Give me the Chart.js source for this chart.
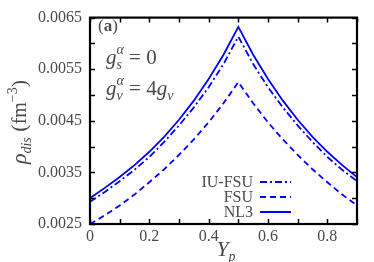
<!DOCTYPE html>
<html>
<head>
<meta charset="utf-8">
<script src="https://cdn.jsdelivr.net/npm/chart.js@4.4.1/dist/chart.umd.min.js"></script>
<style>
  html, body { margin: 0; padding: 0; background: #fff; }
  canvas { display: block; }
</style>
</head>
<body>
<canvas id="chart" width="374" height="262"></canvas>
<script>
// values
const yp    = [0, 0.05, 0.1, 0.15, 0.2, 0.25, 0.3, 0.35, 0.4, 0.45, 0.5,
               0.55, 0.6, 0.65, 0.7, 0.75, 0.8, 0.85, 0.9];
const nl3   = [0.00300, 0.00320, 0.00341, 0.00364, 0.00390, 0.00419, 0.00452, 0.00489, 0.00531, 0.00578, 0.00632,
               0.00578, 0.00531, 0.00489, 0.00452, 0.00419, 0.00390, 0.00364, 0.00341];
const fsu   = [0.00250, 0.00267, 0.00286, 0.00307, 0.00331, 0.00356, 0.00384, 0.00414, 0.00447, 0.00484, 0.00525,
               0.00484, 0.00447, 0.00414, 0.00384, 0.00356, 0.00331, 0.00307, 0.00286];
const iufsu = [0.00293, 0.00312, 0.00333, 0.00355, 0.00380, 0.00409, 0.00441, 0.00476, 0.00515, 0.00560, 0.00613,
               0.00560, 0.00515, 0.00476, 0.00441, 0.00409, 0.00380, 0.00355, 0.00333];

const xTicks = [0, 0.2, 0.4, 0.6, 0.8];
const yTicks = [0.0025, 0.0035, 0.0045, 0.0055, 0.0065];
const xMinor = [0, 0.1, 0.2, 0.3, 0.4, 0.5, 0.6, 0.7, 0.8, 0.9];
const yMinor = [0.0025, 0.003, 0.0035, 0.004, 0.0045, 0.005, 0.0055, 0.006, 0.0065];

const seriesNames = ['IU-FSU', 'FSU', 'NL3'];

const SERIF = '"Liberation Serif", "DejaVu Serif", serif';
const BLUE = '#0000ff';
const TEXT = '#4a4a4a';

function pts(arr) {
  return yp.map((x, i) => ({ x: x, y: arr[i] }));
}

// draws a run of text pieces [text, font, dy, stack]; a piece with stack=true
// is drawn at the same x as the previous one (super/subscript pairs)
function drawRich(ctx, parts, x, y, align) {
  const widths = parts.map(p => { ctx.font = p[1]; return ctx.measureText(p[0]).width; });
  let total = 0, prev = 0;
  parts.forEach((p, i) => {
    if (p[3]) { total += Math.max(0, widths[i] - prev); prev = Math.max(prev, widths[i]); }
    else { total += widths[i]; prev = widths[i]; }
  });
  let cx = align === 'center' ? x - total / 2 : x;
  let start = cx;
  ctx.textAlign = 'left';
  ctx.textBaseline = 'alphabetic';
  prev = 0;
  parts.forEach((p, i) => {
    ctx.font = p[1];
    if (p[3]) {
      ctx.fillText(p[0], start, y + (p[2] || 0));
      cx = Math.max(cx, start + widths[i]);
    } else {
      start = cx;
      ctx.fillText(p[0], cx, y + (p[2] || 0));
      cx += widths[i];
    }
  });
}

const framePlugin = {
  id: 'frame',
  afterDatasetsDraw(chart) {
    const ctx = chart.ctx;
    const a = chart.chartArea;
    const xs = chart.scales.x, ys = chart.scales.y;
    ctx.save();

    // ticks pointing inward on all four sides
    ctx.strokeStyle = '#000';
    ctx.lineWidth = 1.5;
    ctx.beginPath();
    xMinor.forEach(v => {
      const px = Math.round(xs.getPixelForValue(v)) + 0.5;
      ctx.moveTo(px, a.bottom); ctx.lineTo(px, a.bottom - 5);
      ctx.moveTo(px, a.top); ctx.lineTo(px, a.top + 5);
    });
    yMinor.forEach(v => {
      const py = Math.round(ys.getPixelForValue(v)) + 0.5;
      ctx.moveTo(a.left, py); ctx.lineTo(a.left + 5, py);
      ctx.moveTo(a.right, py); ctx.lineTo(a.right - 5, py);
    });
    ctx.stroke();

    // frame
    ctx.lineWidth = 2.2;
    ctx.strokeRect(a.left, a.top, a.right - a.left, a.bottom - a.top);

    // panel texts
    ctx.fillStyle = TEXT;
    drawRich(ctx, [['(', '17px ' + SERIF], ['a', 'bold 17px ' + SERIF], [')', '17px ' + SERIF]], 98, 31);
    drawRich(ctx, [
      ['g', 'italic 21px ' + SERIF],
      ['s', 'italic 14px ' + SERIF, 5],
      ['α', 'italic 14px ' + SERIF, -10, true],
      [' = 0', '21px ' + SERIF]
    ], 106, 64);
    drawRich(ctx, [
      ['g', 'italic 21px ' + SERIF],
      ['v', 'italic 14px ' + SERIF, 5],
      ['α', 'italic 14px ' + SERIF, -10, true],
      [' = 4', '21px ' + SERIF],
      ['g', 'italic 21px ' + SERIF],
      ['v', 'italic 14px ' + SERIF, 5]
    ], 106, 95);

    // legend: label on the left, line sample on the right
    const rows = [182, 197, 212];
    const dashes = [[7, 3, 2, 3], [6, 4], []];
    ctx.font = '16px ' + SERIF;
    seriesNames.forEach((name, i) => {
      ctx.fillStyle = TEXT;
      ctx.textAlign = 'right';
      ctx.textBaseline = 'middle';
      ctx.fillText(name, 253, rows[i] + 1);
      ctx.strokeStyle = BLUE;
      ctx.lineWidth = 2;
      ctx.setLineDash(dashes[i]);
      ctx.beginPath();
      ctx.moveTo(260, rows[i]);
      ctx.lineTo(291, rows[i]);
      ctx.stroke();
    });
    ctx.setLineDash([]);

    // axis titles
    ctx.fillStyle = TEXT;
    drawRich(ctx, [['Y', 'italic 22px ' + SERIF], ['p', 'italic 14px ' + SERIF, 5]], 226, 256, 'center');

    ctx.translate(26, 122);
    ctx.rotate(-Math.PI / 2);
    drawRich(ctx, [
      ['ρ', 'italic 22px ' + SERIF],
      ['dis', 'italic 14px ' + SERIF, 5],
      [' (', '22px ' + SERIF],
      ['fm', '20px ' + SERIF],
      ['−3', '14px ' + SERIF, -9],
      [')', '22px ' + SERIF]
    ], 0, 0, 'center');

    ctx.restore();
  }
};

const chart = new Chart(document.getElementById('chart'), {
  type: 'line',
  data: {
    datasets: [
      { label: 'NL3', data: pts(nl3), borderColor: BLUE, borderWidth: 1.8, borderDash: [] },
      { label: 'FSU', data: pts(fsu), borderColor: BLUE, borderWidth: 1.8, borderDash: [6, 4] },
      { label: 'IU-FSU', data: pts(iufsu), borderColor: BLUE, borderWidth: 1.8, borderDash: [7, 3, 2, 3] }
    ]
  },
  options: {
    responsive: false,
    animation: false,
    devicePixelRatio: 1,
    layout: { padding: { top: 13, right: 17, left: 0, bottom: 0 } },
    elements: { point: { radius: 0 }, line: { tension: 0, fill: false } },
    plugins: { legend: { display: false }, tooltip: { enabled: false } },
    scales: {
      x: {
        type: 'linear',
        min: 0,
        max: 0.9,
        grid: { display: false, drawTicks: false },
        border: { display: false },
        afterBuildTicks: s => { s.ticks = xTicks.map(v => ({ value: v })); },
        afterFit: s => { s.height = 38; },
        ticks: {
          color: TEXT,
          padding: 3,
          font: { family: SERIF, size: 16 },
          callback: v => String(v)
        }
      },
      y: {
        type: 'linear',
        min: 0.0025,
        max: 0.0065,
        grid: { display: false, drawTicks: false },
        border: { display: false },
        afterBuildTicks: s => { s.ticks = yTicks.map(v => ({ value: v })); },
        afterFit: s => { s.width = 90; },
        ticks: {
          color: TEXT,
          padding: 8,
          font: { family: SERIF, size: 16 },
          callback: v => v.toFixed(4)
        }
      }
    }
  },
  plugins: [framePlugin]
});
</script>
</body>
</html>
